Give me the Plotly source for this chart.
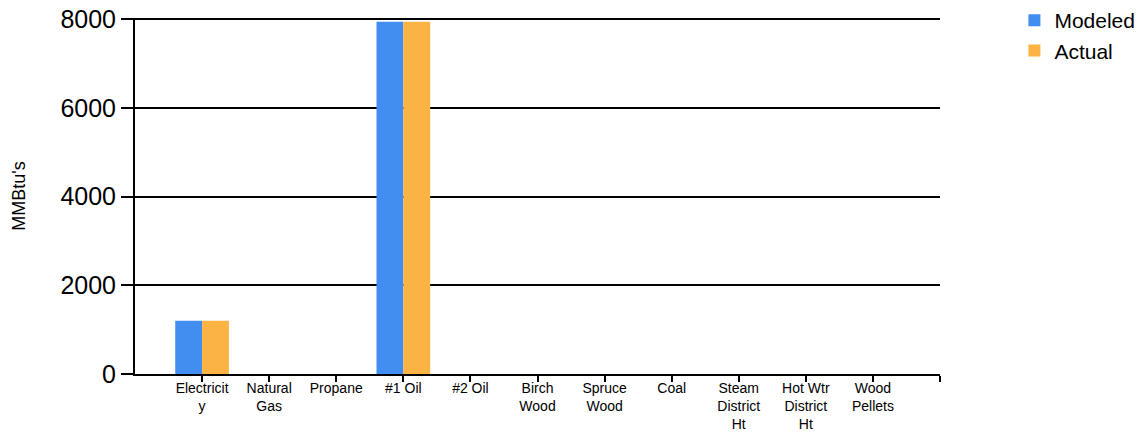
import plotly.graph_objects as go

categories = ["Electricit<br>y", "Natural<br>Gas", "Propane", "#1 Oil", "#2 Oil",
              "Birch<br>Wood", "Spruce<br>Wood", "Coal", "Steam<br>District<br>Ht",
              "Hot Wtr<br>District<br>Ht", "Wood<br>Pellets"]
modeled = [1200, 0, 0, 7940, 0, 0, 0, 0, 0, 0, 0]
actual = [1200, 0, 0, 7940, 0, 0, 0, 0, 0, 0, 0]
y_ticks = [0, 2000, 4000, 6000, 8000]

xpos = list(range(len(categories)))

fig = go.Figure()
fig.add_trace(go.Bar(x=xpos, y=modeled, name="Modeled", marker=dict(color="#428DF0", line=dict(width=0))))
fig.add_trace(go.Bar(x=xpos, y=actual, name="Actual", marker=dict(color="#FBB343", line=dict(width=0))))

fig.update_layout(
    width=1143, height=432,
    margin=dict(l=135, r=203, t=18, b=58),
    paper_bgcolor="white", plot_bgcolor="white",
    barmode="group", bargap=0.2, bargroupgap=0,
    font=dict(family="Liberation Sans, Arial, sans-serif", color="black"),
    legend=dict(xref="container", yref="container", x=0.8875, y=1.0,
                xanchor="left", yanchor="top",
                font=dict(size=21), tracegroupgap=0),
    showlegend=True,
)
fig.update_xaxes(
    range=[-1, 11],
    tickmode="array",
    tickvals=xpos + [len(categories)],
    ticktext=categories + [""],
    ticks="outside", ticklen=6, tickwidth=2, tickcolor="black",
    showline=True, linecolor="black", linewidth=2,
    showgrid=False, zeroline=False,
    tickfont=dict(size=14),
    ticklabelstandoff=-6,
    tickangle=0,
    automargin=False,
)
fig.update_yaxes(
    range=[0, 8025],
    tickvals=y_ticks,
    ticks="outside", ticklen=12, tickwidth=2, tickcolor="black",
    showline=True, linecolor="black", linewidth=2,
    showgrid=True, gridcolor="black", gridwidth=2,
    zeroline=False,
    tickfont=dict(size=25),
    title=dict(text="MMBtu's", font=dict(size=18), standoff=30),
    automargin=False,
)

fig.write_html("out.html")
